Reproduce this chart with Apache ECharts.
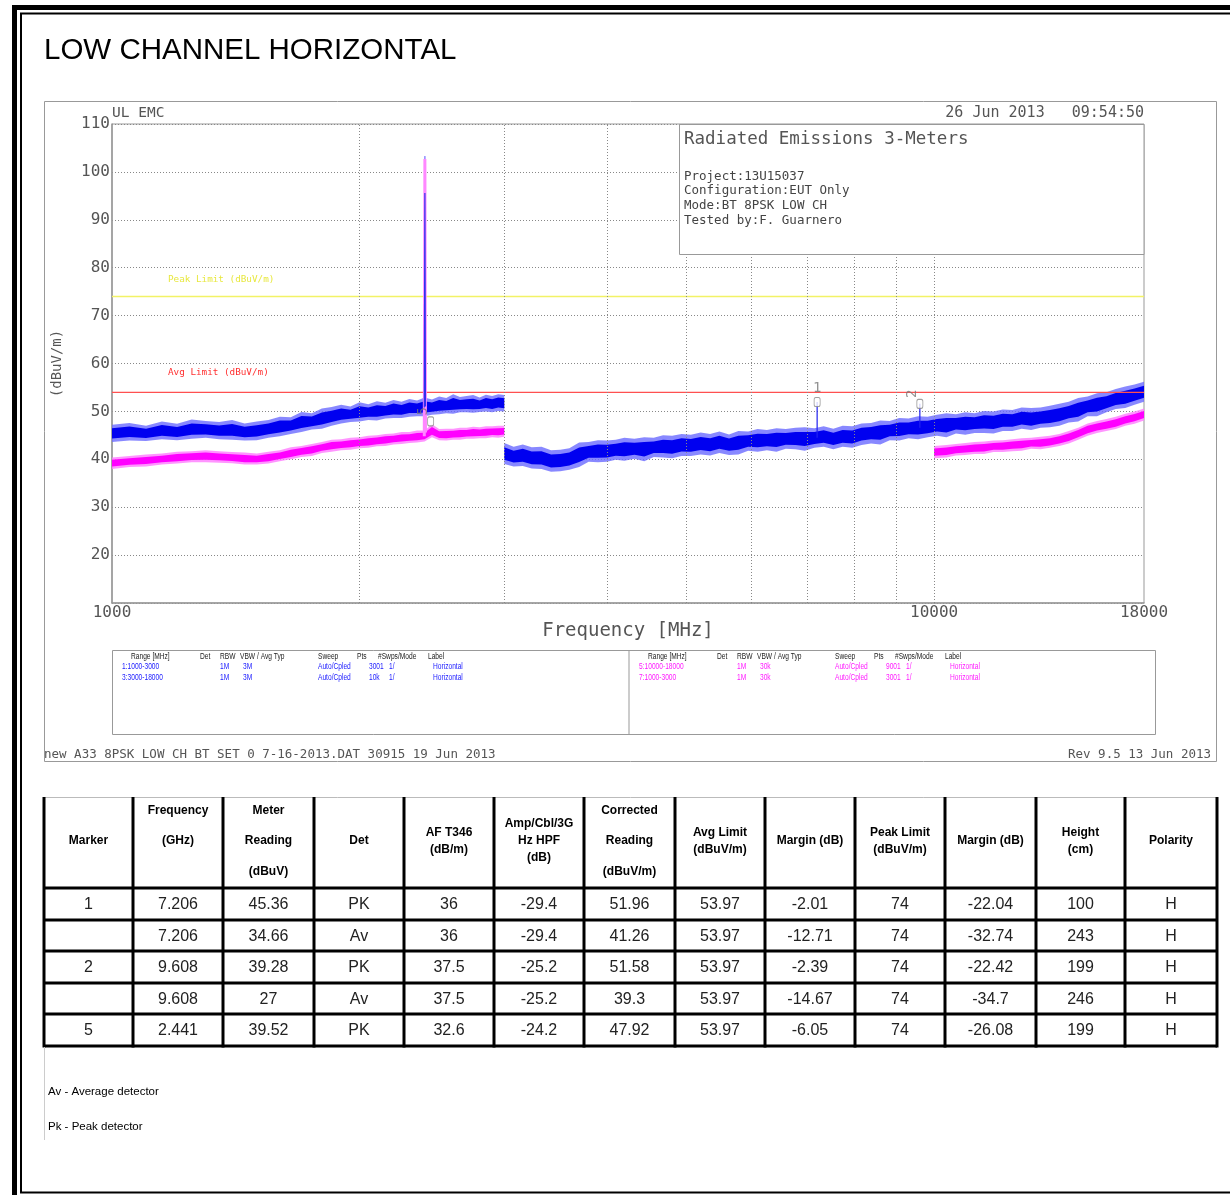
<!DOCTYPE html>
<html><head><meta charset="utf-8">
<script src="https://cdn.jsdelivr.net/npm/echarts@6/dist/echarts.min.js"></script>
<style>html,body{margin:0;padding:0;background:#fff;}#c{width:1230px;height:1195px;}</style>
</head><body><div id="c"></div>
<script>
// ---------------- DATA ----------------
const titleText = 'LOW CHANNEL HORIZONTAL';
const yTickLabels = [20,30,40,50,60,70,80,90,100,110];
const gridFreqs = [2000,3000,4000,5000,6000,7000,8000,9000,10000];
const peakLimit = 74;
const avgLimit = 53.97;

// Trace 1 (peak, 1000-3000) and trace 7 (average, 1000-3000): band envelope
const traceLowFreq = [1000,1050,1100,1150,1200,1250,1300,1350,1400,1450,1500,1550,1600,1650,1700,1750,1800,1850,1900,1950,2000,2050,2100,2150,2200,2250,2300,2350,2400,2450,2500,2550,2600,2650,2700,2750,2800,2850,2900,2950,3000];
const trace1Min = [43.6,43.9,43.8,44.2,44.0,44.3,44.5,44.2,44.1,43.9,44.0,44.5,44.8,45.3,45.7,46.2,46.4,47.0,47.5,47.8,47.9,48.2,48.1,48.5,48.6,48.6,48.9,49.0,49.0,49.3,49.4,49.6,49.5,49.8,49.8,49.7,49.9,50.0,49.8,50.1,50.0];
const trace1Max = [47.2,47.6,47.0,47.9,47.4,48.3,48.0,47.8,48.2,47.5,47.9,48.2,48.9,48.8,49.9,49.6,50.6,50.9,51.4,51.0,51.9,51.5,52.1,51.8,52.4,52.0,52.6,52.3,52.9,52.5,53.1,52.8,53.6,53.0,53.2,53.4,52.9,53.5,53.2,53.6,53.4];
const trace7Min = [38.0,38.4,38.5,38.9,39.1,39.4,39.4,39.3,39.2,38.9,38.9,39.1,39.6,40.0,40.5,40.7,41.3,41.6,41.9,42.0,42.3,42.4,42.7,42.8,43.1,43.2,43.4,43.5,43.7,44.6,44.0,43.9,44.1,44.1,44.3,44.3,44.4,44.4,44.6,44.5,44.7];
const trace7Max = [40.4,40.7,41.0,41.2,41.6,41.7,41.9,41.7,41.5,41.4,41.2,41.6,41.9,42.5,42.8,43.2,43.6,44.1,44.2,44.5,44.6,44.9,45.0,45.3,45.4,45.7,45.7,46.0,46.0,47.3,46.3,46.4,46.4,46.6,46.6,46.8,46.7,46.9,46.9,47.0,47.0];

// Trace 3 (peak, 3000-18000)
const trace3Freq = [3000,3080,3160,3240,3330,3420,3510,3600,3700,3800,3900,4000,4100,4200,4320,4440,4560,4680,4800,4930,5060,5200,5340,5480,5630,5780,5940,6100,6260,6430,6600,6780,6960,7150,7340,7540,7740,7950,8160,8380,8600,8830,9070,9310,9560,9820,10080,10350,10630,10910,11200,11500,11810,12120,12450,12780,13120,13470,13830,14200,14580,14970,15370,15780,16200,16630,17080,17530,18000];
const trace3Min = [39.0,38.5,38.6,38.1,38.0,37.4,37.5,37.8,38.4,39.5,39.4,39.5,39.9,39.7,40.1,39.6,40.5,40.4,40.2,40.7,40.7,41.0,40.8,41.3,40.9,41.0,41.8,41.6,41.9,41.6,42.2,42.1,41.8,42.4,42.6,42.1,42.6,42.4,43.0,43.3,43.1,44.0,43.9,44.4,44.2,44.6,44.9,44.6,45.4,45.1,45.5,45.5,45.4,45.9,45.9,46.4,46.1,46.6,46.7,47.0,47.7,47.9,49.0,49.0,49.8,50.5,50.7,51.4,52.0];
const trace3Max = [43.4,42.6,43.1,42.5,42.6,41.9,42.0,42.3,43.5,43.6,44.0,43.9,44.1,44.5,44.3,44.6,44.5,45.0,44.9,45.3,45.1,45.6,45.3,45.8,45.2,45.9,45.8,46.3,46.1,46.5,46.3,46.6,46.7,46.5,46.9,46.4,47.0,46.9,47.5,47.6,48.1,48.0,48.6,48.5,49.0,48.9,49.3,49.6,49.4,49.8,49.6,50.1,50.0,50.4,50.3,50.8,50.7,50.8,51.2,51.6,52.0,52.8,53.1,53.8,54.0,54.7,55.2,55.6,56.2];

// Trace 5 (average, 10000-18000)
const trace5Freq = [10000,10350,10630,10910,11200,11500,11810,12120,12450,12780,13120,13470,13830,14200,14580,14970,15370,15780,16200,16630,17080,17530,18000];
const trace5Min = [40.2,40.4,40.8,40.9,41.1,41.1,41.5,41.5,41.7,41.8,42.2,42.1,42.4,42.8,43.3,44.1,44.9,45.5,45.9,46.3,47.0,47.4,48.1];
const trace5Max = [42.8,43.0,43.2,43.4,43.6,43.7,43.9,44.0,44.2,44.4,44.5,44.7,44.9,45.3,45.9,46.6,47.5,48.0,48.4,48.9,49.5,50.0,50.6];

// Carrier spike at 2402 MHz
const spikeFreq = [2398,2402,2406];
const spikeAvg = [44.8,102.7,45.6];
const spikePeakCore = [50.8,95.6,51.0];
const spikePeakTop = [50.8,103.3,51.0];

// Markers
const markerLabels = ['1','2','5'];
const markerFreq = [7206,9608,2441];
const markerLevel = [51.96,51.58,47.92];
const markerStemBase = [44.5,46.6,null];

// Text blocks
const dateText = '26 Jun 2013   09:54:50';
const siteText = 'UL EMC';
const infoTitle = 'Radiated Emissions 3-Meters';
const infoLines = ['Project:13U15037','Configuration:EUT Only','Mode:BT 8PSK LOW CH','Tested by:F. Guarnero'];
const legendHeaders = ['Range [MHz]','Det','RBW','VBW / Avg Typ','Sweep','Pts','#Swps/Mode','Label'];
const legendRowsPeak = [['1:1000-3000','','1M','3M','Auto/Cpled','3001','1/','Horizontal'],['3:3000-18000','','1M','3M','Auto/Cpled','10k','1/','Horizontal']];
const legendRowsAvg = [['5:10000-18000','','1M','30k','Auto/Cpled','9001','1/','Horizontal'],['7:1000-3000','','1M','30k','Auto/Cpled','3001','1/','Horizontal']];
const footerLeft = 'new A33 8PSK LOW CH BT SET 0 7-16-2013.DAT 30915 19 Jun 2013';
const footerRight = 'Rev 9.5 13 Jun 2013';

// Table
const tableHeaders = [['Marker'],['Frequency','(GHz)'],['Meter','Reading','(dBuV)'],['Det'],['AF T346','(dB/m)'],['Amp/Cbl/3G','Hz HPF','(dB)'],['Corrected','Reading','(dBuV/m)'],['Avg Limit','(dBuV/m)'],['Margin (dB)'],['Peak Limit','(dBuV/m)'],['Margin (dB)'],['Height','(cm)'],['Polarity']];
const markerIds = ['1','','2','','5'];
const freqGHz = [7.206,7.206,9.608,9.608,2.441];
const meterReading = [45.36,34.66,39.28,27,39.52];
const detector = ['PK','Av','PK','Av','PK'];
const afT346 = [36,36,37.5,37.5,32.6];
const ampCblHpf = [-29.4,-29.4,-25.2,-25.2,-24.2];
const correctedReading = [51.96,41.26,51.58,39.3,47.92];
const avgLimitCol = [53.97,53.97,53.97,53.97,53.97];
const avgMargin = [-2.01,-12.71,-2.39,-14.67,-6.05];
const peakLimitCol = [74,74,74,74,74];
const peakMargin = [-22.04,-32.74,-22.42,-34.7,-26.08];
const heightCm = [100,243,199,246,199];
const polarity = ['H','H','H','H','H'];
const notes = ['Av - Average detector','Pk - Peak detector'];

// ---------------- RENDER ----------------
const PF = "'DejaVu Sans Mono','Liberation Mono',monospace";
const AF = "'Liberation Sans',Arial,sans-serif";
const NF = "'Liberation Sans Narrow','Liberation Sans',sans-serif";
const g = [];
function txt(x,y,text,size,o){o=o||{};const sx=o.scaleX||1;g.push({type:'text',z:100,silent:true,x:x,y:y,scaleX:sx,style:{x:0,y:0,text:text,
  font:(o.weight||'normal')+' '+size+'px '+(o.family||PF),fill:o.fill||'#555',
  textAlign:o.align||'left',textVerticalAlign:'middle'}});}
function ln(x1,y1,x2,y2,c,w){g.push({type:'line',z:100,silent:true,shape:{x1:x1,y1:y1,x2:x2,y2:y2},style:{stroke:c,lineWidth:w}});}
function box(x,y,w,h,stroke,lw,fill){g.push({type:'rect',z:99,silent:true,shape:{x:x,y:y,width:w,height:h},style:{stroke:stroke,lineWidth:lw,fill:fill||'none'}});}

// page borders
box(14.5,7.5,1400,1400,'#000',5);
box(21,13.5,1400,1179,'#000',2);
txt(44,51,titleText,29.5,{family:AF,fill:'#000'});
// plot frame
box(44.5,101.5,1172,660,'#999',1);
txt(112,113,siteText,14.5,{fill:'#555'});
txt(1144,113,dateText,15,{fill:'#555',align:'right'});
// info box
box(679.5,124.5,464.5,130,'#999',1,'#fff');
txt(684,139,infoTitle,17.5,{fill:'#555'});
infoLines.forEach((t,i)=>txt(684,176.5+i*14.7,t,12.5,{fill:'#444'}));
// limit labels
txt(168,280,'Peak Limit (dBuV/m)',9.3,{fill:'#e8e840'});
txt(168,373,'Avg Limit (dBuV/m)',9.3,{fill:'#ff3030'});
// legend box
box(112.5,650.5,1043,84,'#999',1,'#fff');
ln(629,650,629,734,'#999',1);
const hdrOff=[19,88,108,128,206,245,266,316], rowOff=[10,88,108,131,206,257,277,321];
[[112,legendRowsPeak,'#1a1aff'],[629,legendRowsAvg,'#ff1aff']].forEach(([bx,rows,col])=>{
  legendHeaders.forEach((t,i)=>txt(bx+hdrOff[i],657,t,8.5,{family:NF,fill:'#222',scaleX:0.78}));
  rows.forEach((r,ri)=>r.forEach((t,i)=>{if(t)txt(bx+rowOff[i],667+ri*10.5,t,8.5,{family:NF,fill:col,scaleX:0.78});}));
});
txt(44,755,footerLeft,12.5,{fill:'#555'});
txt(1211,755,footerRight,12.5,{fill:'#555',align:'right'});

// table
const colX=[44,133,223,314,404,494,584,675,765,855,945,1036,1125,1217];
const rowY=[797,888,920,951,983,1014,1046];
const tableCols=[markerIds,freqGHz,meterReading,detector,afT346,ampCblHpf,correctedReading,avgLimitCol,avgMargin,peakLimitCol,peakMargin,heightCm,polarity];
const wideCols={1:true,2:true,6:true};
ln(44,797.5,1217,797.5,'#bbb',1);
rowY.slice(1).forEach(y=>ln(44,y,1217,y,'#000',3));
colX.forEach(x=>ln(x,797,x,1047.5,'#000',3));
tableHeaders.forEach((lines,ci)=>{
  const cx=(colX[ci]+colX[ci+1])/2;
  let ys;
  if(lines.length===1) ys=[841];
  else if(wideCols[ci]) ys=lines.length===2?[811,841]:[811,841,872];
  else ys=lines.length===2?[833,850]:[824,841,858];
  lines.forEach((t,i)=>txt(cx,ys[i],t,12,{family:AF,weight:'bold',fill:'#000',align:'center'}));
});
tableCols.forEach((col,ci)=>{
  const cx=(colX[ci]+colX[ci+1])/2;
  col.forEach((v,ri)=>txt(cx,(rowY[ri+1]+rowY[ri+2])/2+1,String(v),16,{family:AF,fill:'#222',align:'center'}));
});
ln(44.5,1047,44.5,1140,'#ccc',1);
notes.forEach((t,i)=>txt(48,1092+i*35,t,11.5,{family:AF,fill:'#000'}));

// ----- series -----
function band(freq,mn,mx,light,dark,z){
  return {type:'custom',coordinateSystem:'cartesian2d',silent:true,z:z,
    data:freq.map((f,i)=>[f,mn[i],mx[i]]),encode:{x:0,y:[1,2]},
    renderItem:function(params,api){
      if(params.dataIndex!==0) return null;
      const lo=freq.map((f,i)=>api.coord([f,mn[i]]));
      const hi=freq.map((f,i)=>api.coord([f,mx[i]]));
      const ilo=lo.map((p,i)=>[p[0],p[1]+(hi[i][1]-p[1])*0.2]);
      const ihi=hi.map((p,i)=>[p[0],p[1]-(p[1]-lo[i][1])*0.2]);
      return {type:'group',children:[
        {type:'polygon',shape:{points:lo.concat(hi.slice().reverse())},style:{fill:light,opacity:0.8}},
        {type:'polygon',shape:{points:ilo.concat(ihi.slice().reverse())},style:{fill:dark}}
      ]};
    }};
}
function poly(freq,vals,color,w,z){
  return {type:'line',silent:true,z:z,symbol:'none',data:freq.map((f,i)=>[f,vals[i]]),lineStyle:{color:color,width:w}};
}
const series=[
  band(traceLowFreq,trace1Min,trace1Max,'#6a6aff','#0000f0',2),
  band(trace3Freq,trace3Min,trace3Max,'#6a6aff','#0000f0',2),
  band(traceLowFreq,trace7Min,trace7Max,'#ff7aff','#ff00ff',3),
  band(trace5Freq,trace5Min,trace5Max,'#ff7aff','#ff00ff',3),
  Object.assign(poly([1000,18000],[peakLimit,peakLimit],'#f2f266',1.5,4),{
    markLine:{silent:true,symbol:['none','none'],label:{show:false},animation:false,
      lineStyle:{type:[1,2],color:'#888',width:1},data:gridFreqs.map(f=>({xAxis:f}))}}),
  poly([1000,18000],[avgLimit,avgLimit],'#ff5050',1.2,4),
  poly(spikeFreq,spikePeakTop,'#8a8aff',1,5),
  poly(spikeFreq,spikeAvg,'#ff88ff',3,6),
  poly(spikeFreq,spikePeakCore,'#3030f0',1.2,7)
];
markerFreq.forEach((f,i)=>{ if(markerStemBase[i]!=null) series.push(poly([f,f],[markerStemBase[i],markerLevel[i]],'#2020f0',1.2,7)); });
series.push({type:'scatter',silent:true,z:8,symbol:'roundRect',symbolSize:[6,9],
  itemStyle:{color:'#fff',borderColor:'#888',borderWidth:1},
  data:markerFreq.map((f,i)=>({value:[f,markerLevel[i]],label:{rotate:i===0?0:90,distance:i===0?2:5}})),
  label:{show:true,position:'top',formatter:p=>markerLabels[p.dataIndex],fontFamily:PF,fontSize:14,color:'#777'}});

const chart=echarts.init(document.getElementById('c'));
chart.setOption({
  animation:false,backgroundColor:'#fff',
  grid:{left:112,top:124,width:1032,height:479,show:true,borderColor:'#999',borderWidth:1,backgroundColor:'transparent'},
  xAxis:{type:'log',logBase:10,min:1000,max:18000,name:'Frequency [MHz]',nameLocation:'middle',nameGap:19,
    nameTextStyle:{fontFamily:PF,fontSize:19,color:'#555'},
    axisLine:{lineStyle:{color:'#999',width:1.5}},axisTick:{show:false},splitLine:{show:false},
    axisLabel:{fontFamily:PF,fontSize:16,color:'#555',margin:2,showMinLabel:true,showMaxLabel:true,formatter:v=>String(Math.round(v))}},
  yAxis:{type:'value',min:10,max:110,interval:10,name:'(dBuV/m)',nameLocation:'middle',nameGap:48,nameRotate:90,
    nameTextStyle:{fontFamily:PF,fontSize:14,color:'#555'},
    axisLine:{show:true,lineStyle:{color:'#999',width:1.5}},axisTick:{show:false},
    splitLine:{show:true,lineStyle:{type:[1,2],color:'#888',width:1}},
    axisLabel:{fontFamily:PF,fontSize:16,color:'#555',margin:2,formatter:v=>yTickLabels.indexOf(v)>=0?String(v):''}},
  graphic:g,
  series:series
});
</script></body></html>
